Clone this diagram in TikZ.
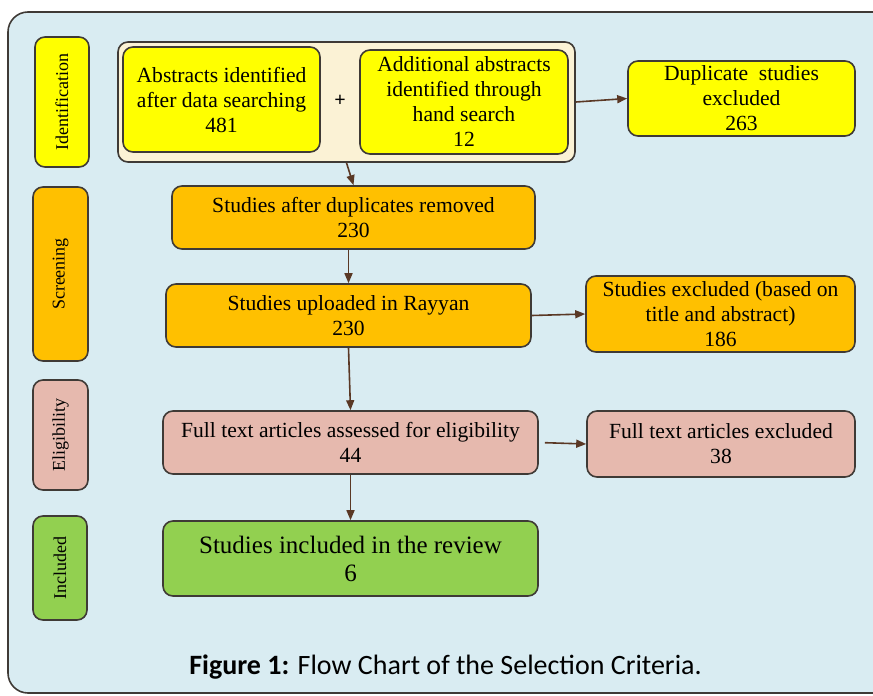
\documentclass[tikz,border=0pt]{standalone}
\usepackage{fontspec}
\setmainfont{Liberation Serif}
\newfontfamily\capfont{Carlito}
\usetikzlibrary{arrows.meta}
\definecolor{panel}{HTML}{D9ECF2}
\definecolor{ident}{HTML}{FFFF00}
\definecolor{screen}{HTML}{FFC000}
\definecolor{elig}{HTML}{E6B9AE}
\definecolor{incl}{HTML}{92D050}
\definecolor{cream}{HTML}{FBF2D5}
\definecolor{edge}{HTML}{3F3A36}
\definecolor{arrowbrown}{HTML}{5A3825}
\begin{document}
\begin{tikzpicture}[x=0.5pt,y=-0.5pt]

    \tikzset{
      lane/.style={
        draw=edge,
        thick,
        rounded corners=5pt,
        rotate=90,
        inner sep=0pt,
        font=\fontsize{9}{10}\selectfont,
      },
      stage/.style={
        draw=edge,
        thick,
        rounded corners=5pt,
        inner sep=0pt,
        align=center,
        font=\fontsize{10.8}{12.5}\selectfont,
      },
      flow/.style={
        draw=arrowbrown,
        thick,
        -{Triangle[length=5pt,width=4pt]},
      },
    }
    \useasboundingbox (0,0) rectangle (873,696);
    \clip (0,0) rectangle (873,696);
	
	 \draw[thick,draw=edge,fill=panel,rounded corners=10pt] (8,12) rectangle (900,693);
	
	 % phases
	 \node[lane,fill=ident,minimum width=65pt,minimum height=27pt] (phaseId) at (62,102) {Identification};
	
	 \node[lane,fill=screen,minimum width=87pt,minimum height=27.5pt] (phaseScr) at (60.5,274) {Screening};
	
	 \node[lane,fill=elig,minimum width=55pt,minimum height=27.5pt] (phaseElig) at (60.5,435) {Eligibility};
	
	 \node[lane,fill=incl,minimum width=52pt,minimum height=27pt] (phaseIncl) at (60,568) {Included};
	
	 % identification
	 \node[stage,fill=cream,minimum width=228.5pt,minimum height=60pt] (sources) at (346.5,102) {};
	
	 \node[stage,fill=ident,minimum width=98.5pt,minimum height=52.5pt] (searched) at (221.5,99.5) {Abstracts identified\\after data searching\\481};
	
	 \node[font=\bfseries] (plus) at (340,101) {+};
	
	 \node[stage,fill=ident,minimum width=104pt,minimum height=52pt] (handsearch) at (464,102) {Additional abstracts\\identified through\\hand search\\12};
	
	 \node[stage,fill=ident,minimum width=113.5pt,minimum height=37.5pt] (duplicates) at (741.5,98.5) {Duplicate\ \ studies\\excluded\\263};
	
	 % screening
	 \node[stage,fill=screen,minimum width=181.5pt,minimum height=31.5pt] (deduped) at (353.5,217.5) {Studies after duplicates removed\\230};
	
	 \node[stage,fill=screen,minimum width=182.5pt,minimum height=31.5pt] (rayyan) at (348.5,315.5) {Studies uploaded in Rayyan\\230};
	
	 \node[stage,fill=screen,minimum width=134.5pt,minimum height=38pt] (titleExcl) at (720.5,314) {Studies excluded (based on\\title and abstract)\\186};
	
	 % eligibility
	 \node[stage,fill=elig,minimum width=187.5pt,minimum height=31.5pt] (fulltext) at (350.5,442.5) {Full text articles assessed for eligibility\\44};
	
	 \node[stage,fill=elig,minimum width=134pt,minimum height=33pt] (fullExcl) at (721,444) {Full text articles excluded\\38};
	
	 % included
	 \node[stage,fill=incl,minimum width=187.5pt,minimum height=37.5pt,font=\fontsize{12.5}{14}\selectfont] (review) at (350.5,558.5) {Studies included in the review\\6};
	
	 \node[font=\capfont\fontsize{14}{16}\selectfont] (caption) at (445.5,667) {\textbf{Figure 1:} Flow Chart of the Selection Criteria.};
	
	 % connectors
	 \draw[flow] (sources.east) -- (duplicates.west);
	 \draw[flow] (sources.south) -- (deduped.north);
	 \draw[flow] (deduped.south -| rayyan.north) -- (rayyan.north);
	 \draw[flow] (rayyan.east) -- (titleExcl.west);
	 \draw[flow] (rayyan.south) -- (fulltext.north);
	 \draw[flow,shorten <=3pt] (fulltext.east) -- (fullExcl.west);
	 \draw[flow] (fulltext.south) -- (review.north);

\end{tikzpicture}
\end{document}
